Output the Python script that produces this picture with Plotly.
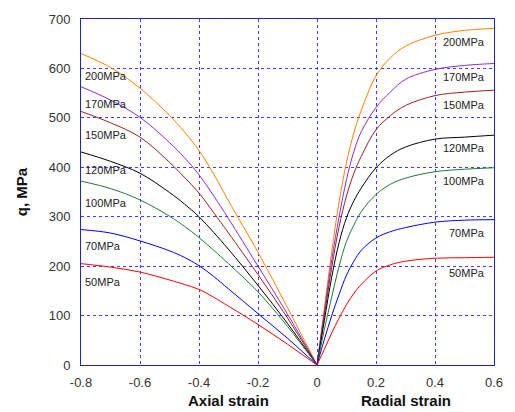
import plotly.graph_objects as go

# ---- data ----
pressures = ["200MPa", "170MPa", "150MPa", "120MPa", "100MPa", "70MPa", "50MPa"]
colors = ["#FF8000", "#8A2BE2", "#992222", "#000000", "#1E7B3A", "#0000FF", "#FF0000"]

axial_strain = [-0.8, -0.7, -0.6, -0.5, -0.45, -0.4, -0.35, -0.3, -0.2, -0.1, 0.0]
q_axial_200 = [630, 602, 560, 505, 472, 434, 386, 332, 228, 116, 0]
q_axial_170 = [563, 536, 501, 450, 420, 385, 342, 296, 200, 103, 0]
q_axial_150 = [513, 490, 461, 410, 380, 348, 308, 267, 183, 95, 0]
q_axial_120 = [431, 412, 388, 349, 326, 300, 268, 234, 161, 84, 0]
q_axial_100 = [372, 357, 334, 301, 281, 258, 232, 205, 148, 78, 0]
q_axial_70 = [274, 267, 251, 231, 218, 201, 179, 154, 104, 54, 0]
q_axial_50 = [205, 198, 188, 172, 163, 153, 137, 119, 82, 42, 0]

radial_strain = [0.0, 0.025, 0.05, 0.075, 0.1, 0.125, 0.15, 0.2, 0.25, 0.3, 0.4, 0.5, 0.6]
q_radial_200 = [0, 115, 230, 330, 410, 470, 515, 585, 622, 645, 667, 677, 681]
q_radial_170 = [0, 108, 213, 300, 375, 432, 472, 521, 553, 578, 598, 606, 610]
q_radial_150 = [0, 100, 198, 280, 342, 388, 422, 476, 505, 525, 545, 552, 556]
q_radial_120 = [0, 90, 178, 248, 298, 332, 358, 399, 425, 441, 457, 461, 465]
q_radial_100 = [0, 72, 138, 200, 250, 283, 310, 345, 366, 378, 391, 396, 399]
q_radial_70 = [0, 52, 100, 143, 182, 210, 232, 257, 270, 278, 289, 293, 294]
q_radial_50 = [0, 32, 65, 95, 122, 145, 163, 190, 203, 210, 216, 217, 218]

x_tickvals = [-0.8, -0.6, -0.4, -0.2, 0, 0.2, 0.4, 0.6]
x_ticktext = ["-0.8", "-0.6", "-0.4", "-0.2", "0", "0.2", "0.4", "0.6"]
y_tickvals = [0, 100, 200, 300, 400, 500, 600, 700]

# label positions (data coords)
left_label_q = [584, 529, 465, 395, 327, 240, 168]
right_label_q = [653, 582, 526, 439, 373, 268, 186]

q_axial = [q_axial_200, q_axial_170, q_axial_150, q_axial_120, q_axial_100, q_axial_70, q_axial_50]
q_radial = [q_radial_200, q_radial_170, q_radial_150, q_radial_120, q_radial_100, q_radial_70, q_radial_50]

FONT = "Liberation Sans, Arial, sans-serif"

fig = go.Figure()
for name, col, qa, qr in zip(pressures, colors, q_axial, q_radial):
    fig.add_trace(go.Scatter(x=axial_strain, y=qa, mode="lines", name=name,
                             line=dict(color=col, width=1, shape="spline", smoothing=1.0),
                             showlegend=False, hoverinfo="skip"))
    fig.add_trace(go.Scatter(x=radial_strain, y=qr, mode="lines", name=name,
                             line=dict(color=col, width=1, shape="spline", smoothing=1.0),
                             showlegend=False, hoverinfo="skip"))

annotations = []
for name, ql in zip(pressures, left_label_q):
    annotations.append(dict(x=-0.793, y=ql, text=name, showarrow=False, xanchor="left",
                            yanchor="middle", font=dict(family=FONT, size=11, color="#222")))
for name, qr in zip(pressures, right_label_q):
    annotations.append(dict(x=0.575, y=qr, text=name, showarrow=False, xanchor="right",
                            yanchor="middle", font=dict(family=FONT, size=11, color="#222")))
annotations.append(dict(x=-0.3, y=-0.103, xref="x", yref="paper", text="<b>Axial strain</b>",
                        showarrow=False, yanchor="middle", xanchor="center",
                        font=dict(family=FONT, size=15, color="#111")))
annotations.append(dict(x=0.3, y=-0.103, xref="x", yref="paper", text="<b>Radial strain</b>",
                        showarrow=False, yanchor="middle", xanchor="center",
                        font=dict(family=FONT, size=15, color="#111")))

fig.update_layout(
    width=515, height=412,
    margin=dict(l=81, r=15, t=16, b=47),
    paper_bgcolor="white", plot_bgcolor="white",
    font=dict(family=FONT, size=13, color="#333"),
    annotations=annotations,
)

grid_color = "rgba(40,40,255,0.9)"
fig.update_xaxes(range=[-0.8, 0.6], tickvals=x_tickvals, ticktext=x_ticktext,
                 showgrid=True, gridcolor=grid_color, griddash="dot", gridwidth=1,
                 zeroline=False, showline=True, linecolor="#2222CC", linewidth=1, mirror=True,
                 ticks="outside", ticklen=5, tickcolor="rgba(0,0,0,0)",
                 tickfont=dict(family=FONT, size=13, color="#333"))
fig.update_yaxes(range=[0, 700], tickvals=y_tickvals,
                 showgrid=True, gridcolor=grid_color, griddash="dot", gridwidth=1,
                 zeroline=False, showline=True, linecolor="#2222CC", linewidth=1, mirror=True,
                 ticks="outside", ticklen=7, tickcolor="rgba(0,0,0,0)",
                 tickfont=dict(family=FONT, size=13, color="#333"),
                 title=dict(text="<b>q, MPa</b>", font=dict(family=FONT, size=15, color="#111"),
                            standoff=17))

fig.write_html("out.html", config={"displayModeBar": False},
               post_script="document.body.style.margin='0';")
